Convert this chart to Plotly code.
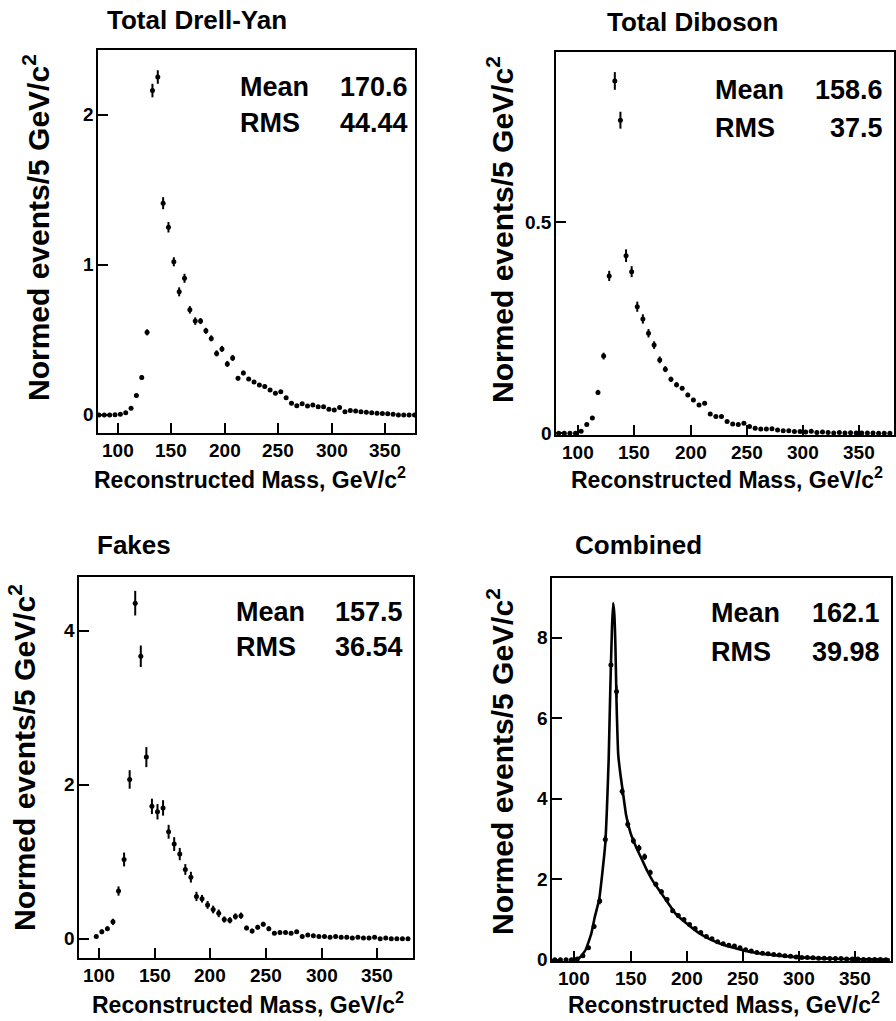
import plotly.graph_objects as go

# ---------------- data ----------------
mass_bins = [82.5 + 5 * i for i in range(60)]
x_ticks = [100, 150, 200, 250, 300, 350]

drell_yan = [0.0, 0.0, 0.0, 0.002, 0.005, 0.015, 0.044, 0.13, 0.25, 0.55,
             2.16, 2.25, 1.41, 1.25, 1.02, 0.82, 0.91, 0.70, 0.625, 0.625,
             0.56, 0.51, 0.41, 0.44, 0.34, 0.38, 0.244, 0.28, 0.24, 0.22,
             0.20, 0.19, 0.166, 0.144, 0.155, 0.115, 0.078, 0.062, 0.075, 0.06,
             0.066, 0.055, 0.055, 0.038, 0.033, 0.05, 0.022, 0.03, 0.027, 0.022,
             0.018, 0.015, 0.012, 0.01, 0.008, 0.005, 0.0, 0.0, 0.0, 0.0]
drell_yan_err = [0.005, 0.005, 0.005, 0.005, 0.005, 0.006, 0.008, 0.012, 0.015, 0.02,
                 0.045, 0.045, 0.04, 0.035, 0.03, 0.03, 0.03, 0.025, 0.025, 0.02,
                 0.02, 0.02, 0.02, 0.02, 0.02, 0.02, 0.015, 0.015, 0.012, 0.012,
                 0.012, 0.012, 0.01, 0.01, 0.01, 0.01, 0.008, 0.008, 0.008, 0.008,
                 0.008, 0.006, 0.006, 0.006, 0.006, 0.006, 0.005, 0.005, 0.005, 0.005,
                 0.005, 0.005, 0.005, 0.005, 0.005, 0.005, 0.005, 0.005, 0.005, 0.005]

diboson = [0.0, 0.0, 0.0, 0.0, 0.005, 0.021, 0.036, 0.097, 0.183, 0.373,
           0.835, 0.742, 0.421, 0.383, 0.30, 0.271, 0.237, 0.209, 0.174, 0.152,
           0.128, 0.115, 0.107, 0.091, 0.079, 0.067, 0.071, 0.046, 0.04, 0.04,
           0.028, 0.022, 0.021, 0.024, 0.016, 0.012, 0.010, 0.010, 0.011, 0.008,
           0.006, 0.006, 0.004, 0.004, 0.003, 0.005, 0.002, 0.003, 0.002, 0.001,
           0.002, 0.001, 0.0015, 0.001, 0.0008, 0.0005, 0.0005, 0.0003, 0.0002, 0.0]
diboson_err = [0.001, 0.001, 0.001, 0.001, 0.002, 0.003, 0.004, 0.006, 0.008, 0.012,
               0.021, 0.02, 0.015, 0.013, 0.012, 0.011, 0.01, 0.009, 0.008, 0.007,
               0.006, 0.006, 0.005, 0.005, 0.005, 0.004, 0.004, 0.003, 0.003, 0.003,
               0.003, 0.002, 0.002, 0.002, 0.002, 0.002, 0.002, 0.002, 0.002, 0.002,
               0.001, 0.001, 0.001, 0.001, 0.001, 0.001, 0.001, 0.001, 0.001, 0.001,
               0.001, 0.001, 0.001, 0.001, 0.001, 0.001, 0.001, 0.001, 0.001, 0.001]

fakes = [None, None, None, 0.03, 0.09, 0.13, 0.22, 0.62, 1.03, 2.07,
         4.36, 3.67, 2.36, 1.72, 1.65, 1.70, 1.39, 1.23, 1.10, 0.90,
         0.80, 0.55, 0.52, 0.44, 0.38, 0.33, 0.25, 0.24, 0.29, 0.30,
         0.14, 0.10, 0.15, 0.19, 0.13, 0.07, 0.08, 0.08, 0.07, 0.09,
         0.03, 0.05, 0.04, 0.03, 0.03, 0.02, 0.03, 0.02, 0.02, 0.01,
         0.02, 0.01, 0.01, 0.02, 0.0, 0.01, 0.0, 0.0, 0.0, 0.0]
fakes_err = [0, 0, 0, 0.02, 0.03, 0.03, 0.04, 0.06, 0.09, 0.12,
             0.16, 0.14, 0.13, 0.1, 0.1, 0.1, 0.09, 0.09, 0.08, 0.07,
             0.07, 0.06, 0.05, 0.05, 0.05, 0.05, 0.04, 0.04, 0.04, 0.04,
             0.03, 0.03, 0.03, 0.03, 0.03, 0.02, 0.02, 0.02, 0.02, 0.02,
             0.02, 0.02, 0.02, 0.02, 0.02, 0.02, 0.02, 0.02, 0.02, 0.02,
             0.02, 0.02, 0.02, 0.02, 0.02, 0.02, 0.02, 0.02, 0.02, 0.02]

combined = [0.0, 0.0, 0.0, 0.0, 0.02, 0.1, 0.3, 0.83, 1.46, 2.99,
            7.33, 6.67, 4.19, 3.37, 2.96, 2.78, 2.56, 2.17, 1.88, 1.69,
            1.50, 1.22, 1.10, 1.0, 0.88, 0.78, 0.68, 0.58, 0.52, 0.45,
            0.40, 0.36, 0.34, 0.30, 0.25, 0.22, 0.18, 0.16, 0.15, 0.13,
            0.12, 0.10, 0.09, 0.07, 0.06, 0.06, 0.05, 0.04, 0.04, 0.03,
            0.03, 0.03, 0.02, 0.02, 0.02, 0.01, 0.01, 0.01, 0.01, 0.0]
combined_err = [0.02, 0.02, 0.02, 0.02, 0.02, 0.03, 0.05, 0.06, 0.08, 0.1,
                0.15, 0.15, 0.1, 0.09, 0.08, 0.08, 0.08, 0.07, 0.06, 0.06,
                0.05, 0.05, 0.05, 0.04, 0.04, 0.04, 0.04, 0.03, 0.03, 0.03,
                0.03, 0.03, 0.03, 0.02, 0.02, 0.02, 0.02, 0.02, 0.02, 0.02,
                0.02, 0.02, 0.02, 0.02, 0.02, 0.02, 0.02, 0.02, 0.02, 0.02,
                0.02, 0.02, 0.02, 0.02, 0.02, 0.02, 0.02, 0.02, 0.02, 0.02]

fit_mass = [95, 100, 105, 110, 115, 118, 122, 125, 127.5, 129, 130.5, 132, 133.5,
            134.5, 135.5, 136.5, 137.5, 139, 141, 143, 146, 150, 155, 160, 165, 170,
            175, 180, 190, 200, 210, 220, 230, 240, 250, 260, 270, 280, 300, 320,
            340, 360, 381]
fit_value = [0.0, 0.01, 0.06, 0.25, 0.65, 1.05, 1.5, 2.2, 2.9, 3.8, 5.0, 6.8, 8.3,
             8.87, 8.6, 7.8, 6.4, 5.1, 4.6, 4.2, 3.6, 3.15, 2.8, 2.5, 2.2, 1.95,
             1.75, 1.55, 1.15, 0.9, 0.68, 0.52, 0.40, 0.31, 0.24, 0.18, 0.14, 0.11,
             0.06, 0.035, 0.02, 0.01, 0.005]

panel_titles = ["Total Drell-Yan", "Total Diboson", "Fakes", "Combined"]
means = ["170.6", "158.6", "157.5", "162.1"]
rmss = ["44.44", "37.5", "36.54", "39.98"]
y_ticks = [[0, 1, 2], [0, 0.5], [0, 2, 4], [0, 2, 4, 6, 8]]
y_tick_text = [["0", "1", "2"], ["0", "0.5"], ["0", "2", "4"], ["0", "2", "4", "6", "8"]]

# ---------------- layout geometry (pixels) ----------------
W, H = 896, 1021
FONT = "Liberation Sans, Arial, sans-serif"

def px(x):
    return x / W

def py(y):
    return 1 - y / H

frames = [  # left, right, top, bottom in pixels
    (98, 415, 50, 433),
    (556, 894, 52, 435),
    (79, 413, 577, 958),
    (552, 891, 578, 961),
]
x_ranges = [[81.6, 378], [80.1, 381.2], [82, 382], [80, 382]]
y_ranges = [[-0.12, 2.43], [-0.004, 0.9036], [-0.25, 4.70], [-0.03, 9.49]]

series = [(drell_yan, drell_yan_err), (diboson, diboson_err),
          (fakes, fakes_err), (combined, combined_err)]

fig = go.Figure()
annotations = []
TICK_FONT = dict(family=FONT, size=19, color="black")

for i, (vals, errs) in enumerate(series):
    xa = "x" if i == 0 else f"x{i+1}"
    ya = "y" if i == 0 else f"y{i+1}"
    fig.add_trace(go.Scatter(
        x=mass_bins, y=vals, mode="markers", xaxis=xa, yaxis=ya,
        marker=dict(color="black", size=5, symbol="circle"),
        error_y=dict(type="data", array=errs, visible=True, color="black",
                     thickness=2, width=0),
        error_x=dict(type="constant", value=1.3, visible=True, color="black",
                     thickness=2, width=0),
        showlegend=False, cliponaxis=True))
    if i == 3:
        fig.add_trace(go.Scatter(
            x=fit_mass, y=fit_value, mode="lines", xaxis=xa, yaxis=ya,
            line=dict(color="black", width=2.6, shape="spline", smoothing=0.4),
            showlegend=False))

    l, r, t, b = frames[i]
    axis_common = dict(showline=True, mirror=True, linecolor="black", linewidth=2,
                       ticks="inside", ticklen=10, tickwidth=1.5, tickcolor="black",
                       showgrid=False, zeroline=False, showticklabels=False)
    xkey = "xaxis" if i == 0 else f"xaxis{i+1}"
    ykey = "yaxis" if i == 0 else f"yaxis{i+1}"
    fig.update_layout(**{
        xkey: dict(domain=[px(l), px(r)], range=x_ranges[i], anchor=ya,
                   tickvals=x_ticks, **axis_common),
        ykey: dict(domain=[py(b), py(t)], range=y_ranges[i], anchor=xa,
                   tickvals=y_ticks[i], **axis_common),
    })

    # bold tick labels, positioned through the axes
    for v in x_ticks:
        annotations.append(dict(text=f"<b>{v}</b>", x=v, xref=xa, y=py(b + 5), yref="paper",
                                xanchor="center", yanchor="top", showarrow=False,
                                font=TICK_FONT))
    for v, s in zip(y_ticks[i], y_tick_text[i]):
        annotations.append(dict(text=f"<b>{s}</b>", y=v, yref=ya, x=px(l - 2), xref="paper",
                                xanchor="right", yanchor="middle", showarrow=False,
                                font=TICK_FONT))

    # title
    title_pos = [(105, 20), (605, 22), (95, 545), (573, 545)][i]
    annotations.append(dict(text=f"<b>{panel_titles[i]}</b>", x=px(title_pos[0]), y=py(title_pos[1]),
                            xref="paper", yref="paper", xanchor="left", yanchor="middle",
                            showarrow=False, font=dict(family=FONT, size=26, color="black")))
    # x title
    xt_c = [(250, 478), (727, 478), (248, 1003), (724, 1003)][i]
    annotations.append(dict(text="<b>Reconstructed Mass, GeV/c<sup>2</sup></b>",
                            x=px(xt_c[0]), y=py(xt_c[1]), xref="paper", yref="paper",
                            xanchor="center", yanchor="middle", showarrow=False,
                            font=dict(family=FONT, size=23, color="black")))
    # y title
    yt_c = [(36, 228), (500, 230), (22, 758), (500, 762)][i]
    annotations.append(dict(text="<b>Normed events/5 GeV/c<sup>2</sup></b>",
                            x=px(yt_c[0]), y=py(yt_c[1]), xref="paper", yref="paper",
                            xanchor="center", yanchor="middle", textangle=-90,
                            showarrow=False, font=dict(family=FONT, size=30, color="black")))
    # stats box
    st = [(238, 410, 87, 123), (713, 885, 90, 128), (234, 405, 612, 647), (709, 882, 613, 652)][i]
    for label, value, yy in (("Mean", means[i], st[2]), ("RMS", rmss[i], st[3])):
        annotations.append(dict(text=f"<b>{label}</b>", x=px(st[0]), y=py(yy),
                                xref="paper", yref="paper", xanchor="left", yanchor="middle",
                                showarrow=False, font=dict(family=FONT, size=27, color="black")))
        annotations.append(dict(text=f"<b>{value}</b>", x=px(st[1]), y=py(yy),
                                xref="paper", yref="paper", xanchor="right", yanchor="middle",
                                showarrow=False, font=dict(family=FONT, size=27, color="black")))

fig.update_layout(width=W, height=H, margin=dict(l=0, r=0, t=0, b=0),
                  paper_bgcolor="white", plot_bgcolor="white",
                  font=dict(family=FONT, color="black"),
                  annotations=annotations)

fig.write_html("out.html")
